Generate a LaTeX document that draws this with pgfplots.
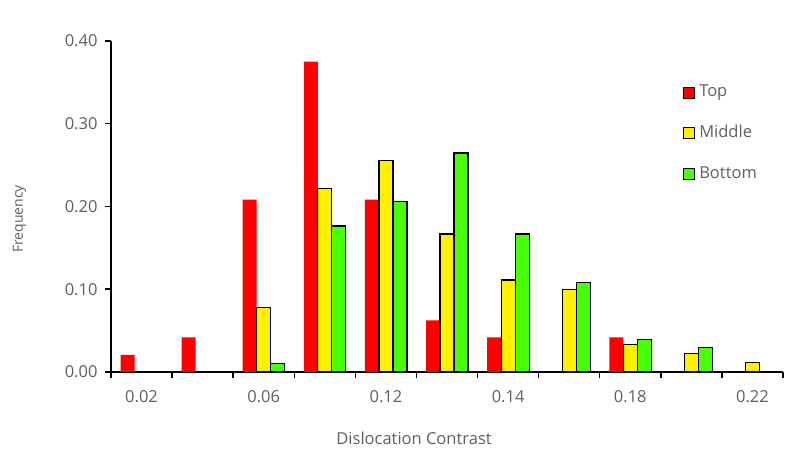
\documentclass[border=0pt]{standalone}
\usepackage{fontspec}
\setmainfont{Open Sans}
\usepackage{pgfplots}
\pgfplotsset{compat=1.18}
\definecolor{cred}{RGB}{255,0,0}
\definecolor{cyel}{RGB}{255,240,0}
\definecolor{cgrn}{RGB}{72,255,10}
\definecolor{tgray}{RGB}{95,95,95}
\pgfplotsset{sqlegend/.style={legend image code/.code={\draw[##1] (0bp,-5.5bp) rectangle (11bp,5.5bp);}}}
\begin{document}
\begin{tikzpicture}[x=1bp,y=1bp]
\useasboundingbox (0,0) rectangle (786,461);
\begin{axis}[
  at={(111bp,89bp)}, anchor=south west,
  scale only axis, width=672bp, height=331bp,
  xmin=-0.5, xmax=10.5, ymin=0, ymax=0.4,
  axis lines*=left,
  axis line style={black, line width=1.5bp},
  tick style={black, line width=1.5bp},
  tick align=outside, major tick length=6bp,
  xtick={-0.5,0.5,...,10.5}, xticklabels={},
  extra x ticks={0,2,4,6,8,10},
  extra x tick labels={0.02,0.06,0.12,0.14,0.18,0.22},
  extra x tick style={major tick length=0pt, xticklabel style={yshift=-15bp}},
  ytick={0,0.1,0.2,0.3,0.4},
  /pgf/number format/fixed, /pgf/number format/fixed zerofill, /pgf/number format/precision=2,
  /pgf/number format/assume math mode=true,
  ticklabel style={font=\fontsize{16.5bp}{19bp}\selectfont, text=tgray},
  yticklabel style={xshift=-4bp},
  xlabel={Dislocation Contrast},
  xlabel style={at={(axis description cs:0.451,-0.199)}, anchor=center, font=\fontsize{16.5bp}{19bp}\selectfont, text=tgray},
  ylabel={Frequency},
  ylabel style={at={(axis description cs:-0.136,0.462)}, anchor=center, font=\fontsize{14bp}{17bp}\selectfont, text=tgray},
  ybar, bar width=14bp,
  legend style={at={(axis description cs:0.851,0.870)}, anchor=north west, draw=none, fill=none, inner sep=0pt,
    row sep=25bp, font=\fontsize{16.5bp}{19bp}\selectfont, text=tgray,
    nodes={inner sep=0pt, inner xsep=4bp, text height=12bp, text depth=4bp}},
  legend cell align=left,
]
\addplot[ybar, bar shift=-14bp, fill=cred, draw=none, sqlegend] coordinates {
(0,0.0208) (1,0.0417) (2,0.2083) (3,0.3750) (4,0.2083) (5,0.0625) (6,0.0417) (8,0.0417)};
\addlegendentry{Top}
\addplot[ybar, bar shift=0bp, fill=cyel, draw=black, line width=1.2bp, sqlegend] coordinates {
(2,0.0778) (3,0.2222) (4,0.2556) (5,0.1667) (6,0.1111) (7,0.1000) (8,0.0333) (9,0.0222) (10,0.0111)};
\addlegendentry{Middle}
\addplot[ybar, bar shift=14bp, fill=cgrn, draw=black, line width=1.2bp, sqlegend] coordinates {
(2,0.0098) (3,0.1765) (4,0.2059) (5,0.2647) (6,0.1667) (7,0.1078) (8,0.0392) (9,0.0294)};
\addlegendentry{Bottom}
\end{axis}
\end{tikzpicture}
\end{document}
